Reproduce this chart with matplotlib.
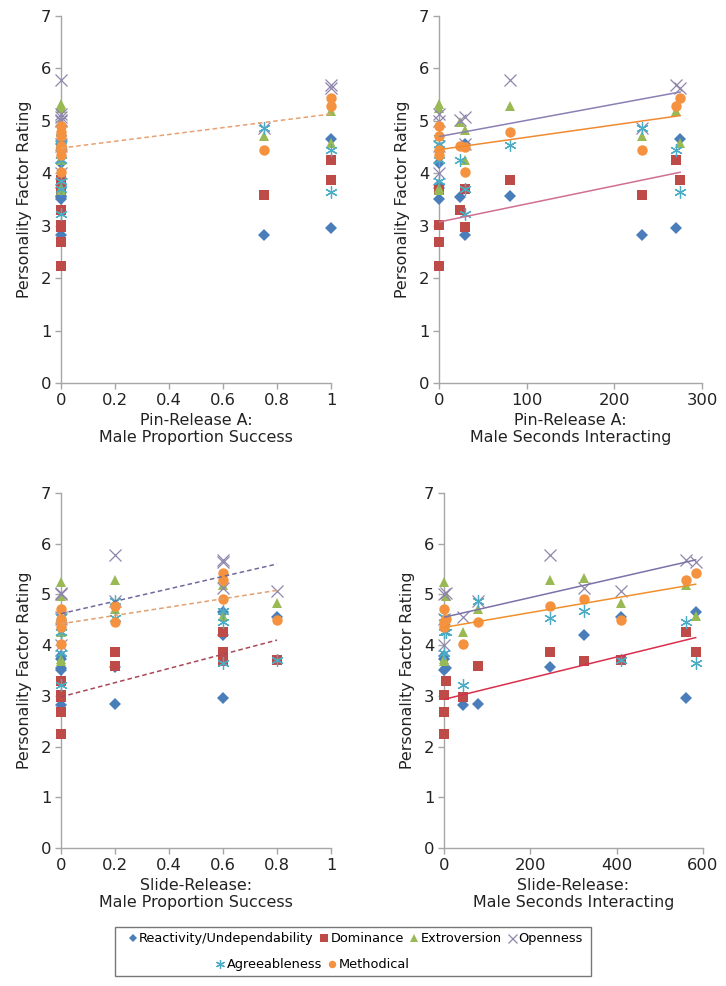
import numpy as np
import matplotlib
matplotlib.use("Agg")
import matplotlib.pyplot as plt
from matplotlib.lines import Line2D
from matplotlib.patches import Rectangle

plt.rcParams["font.family"] = ["DejaVu Sans"]

# one entry per individual
pin_prop = [0.75, 1, 1, 0, 0, 0, 0, 0, 0, 0, 0]
pin_sec = [232, 270, 275, 81, 0, 30, 30, 24, 0, 0, 0]
slide_prop = [0.2, 0.6, 0.6, 0.2, 0.6, 0.8, 0, 0, 0, 0, 0]
slide_sec = [78, 560, 583, 245, 325, 410, 45, 5, 0, 0, 0]

reactivity = [2.83, 2.95, 4.65, 3.57, 4.20, 4.55, 2.82, 3.55, 3.78, 3.50, 3.72]
dominance = [3.58, 4.25, 3.87, 3.87, 3.68, 3.70, 2.97, 3.30, 3.02, 2.68, 2.24]
extroversion = [4.72, 5.18, 4.57, 5.28, 5.33, 4.83, 4.25, 4.97, 5.25, 3.68, 3.72]
openness = [4.87, 5.68, 5.63, 5.78, 5.13, 5.07, 4.55, 5.02, 5.00, 4.00, 4.52]
agreeableness = [4.87, 4.45, 3.65, 4.53, 4.67, 3.70, 3.22, 4.25, 4.55, 3.85, 4.25]
methodical = [4.45, 5.28, 5.43, 4.78, 4.90, 4.50, 4.02, 4.52, 4.72, 4.35, 4.45]

factors = ["Reactivity/Undependability", "Dominance", "Extroversion",
           "Openness", "Agreeableness", "Methodical"]
scores = [reactivity, dominance, extroversion, openness, agreeableness, methodical]

# trendlines: (factor, intercept, slope)
trend_pin_prop = [("Methodical", 4.48, 0.65)]
trend_pin_sec = [("Openness", 4.70, 0.00309), ("Methodical", 4.45, 0.00236),
                 ("Dominance", 3.07, 0.00345)]
trend_slide_prop = [("Openness", 4.62, 1.225), ("Methodical", 4.42, 0.825),
                    ("Dominance", 2.98, 1.40)]
trend_slide_sec = [("Openness", 4.55, 0.00194), ("Methodical", 4.35, 0.00146),
                   ("Dominance", 2.93, 0.00209)]

styles = {
    "Reactivity/Undependability": dict(marker="D", color="#4a7ebb", ms=6.3),
    "Dominance": dict(marker="s", color="#be4b48", ms=7.3),
    "Extroversion": dict(marker="^", color="#98b954", ms=7.5),
    "Openness": dict(marker="x", color="#8f86ad", ms=9),
    "Agreeableness": dict(marker=(6, 2, 0), color="#4bacc6", ms=9),
    "Methodical": dict(marker="o", color="#f59240", ms=7.5),
}

panels = [
    (pin_prop, trend_pin_prop, "Pin-Release A:\nMale Proportion Success",
     [0, 0.2, 0.4, 0.6, 0.8, 1], ["0", "0.2", "0.4", "0.6", "0.8", "1"], (0, 1),
     [0.084, 0.6116, 0.372, 0.3722], "--",
     {"Methodical": "#e8a070"}),
    (pin_sec, trend_pin_sec, "Pin-Release A:\nMale Seconds Interacting",
     [0, 100, 200, 300], ["0", "100", "200", "300"], (0, 300),
     [0.6047, 0.6116, 0.3623, 0.3722], "-",
     {"Openness": "#8c7fb4", "Methodical": "#f08a30", "Dominance": "#d07090"}),
    (slide_prop, trend_slide_prop, "Slide-Release:\nMale Proportion Success",
     [0, 0.2, 0.4, 0.6, 0.8, 1], ["0", "0.2", "0.4", "0.6", "0.8", "1"], (0, 1),
     [0.084, 0.14, 0.372, 0.36], "--",
     {"Openness": "#6e6a9c", "Methodical": "#e0a070", "Dominance": "#a84858"}),
    (slide_sec, trend_slide_sec, "Slide-Release:\nMale Seconds Interacting",
     [0, 200, 400, 600], ["0", "200", "400", "600"], (0, 600),
     [0.6116, 0.14, 0.3567, 0.36], "-",
     {"Openness": "#7a72a8", "Methodical": "#f0902c", "Dominance": "#d8304c"}),
]

fig = plt.figure(figsize=(7.26, 9.86), dpi=100)

for xs, trends, xlabel, xticks, xticklabels, xlim, rect, ls, tcolors in panels:
    ax = fig.add_axes(rect)
    for name, vals in zip(factors, scores):
        st = styles[name]
        mew = 0.9 if name in ("Openness", "Agreeableness") else 0
        ax.plot(xs, vals, linestyle="none", marker=st["marker"], ms=st["ms"],
                color=st["color"], mec=st["color"], mew=mew, clip_on=False, zorder=3)
    xmax = max(xs)
    for name, b, m in trends:
        xx = np.array([0, xmax])
        ax.plot(xx, b + m * xx, linestyle=ls, color=tcolors[name], lw=1.1,
                dashes=(3, 2) if ls == "--" else (None, None), zorder=4)
    ax.set_xlim(*xlim)
    ax.set_ylim(0, 7)
    ax.set_yticks(range(8))
    ax.set_xticks(xticks)
    ax.set_xticklabels(xticklabels)
    for s in ("top", "right"):
        ax.spines[s].set_visible(False)
    for s in ("left", "bottom"):
        ax.spines[s].set_color("#a6a6a6")
        ax.spines[s].set_linewidth(1)
    ax.tick_params(direction="out", length=4, width=1, color="#a6a6a6",
                   labelsize=11.8, labelcolor="#222222", pad=3)
    ax.set_ylabel("Personality Factor Rating", fontsize=11.4, color="#222222", labelpad=6)
    ax.set_xlabel(xlabel, fontsize=11.4, color="#222222", labelpad=4, linespacing=1.15)

# legend in two rows, framed like the reference
def handle(name):
    st = styles[name]
    mew = 0.9 if name in ("Openness", "Agreeableness") else 0
    return Line2D([], [], linestyle="none", marker=st["marker"], ms=st["ms"] * 0.72,
                  color=st["color"], mec=st["color"], mew=mew)

row1 = factors[:4]
row2 = factors[4:]
kw = dict(frameon=False, fontsize=9.3, handlelength=0.6, handletextpad=0.2,
          columnspacing=0.5, borderpad=0, borderaxespad=0)
fig.legend([handle(n) for n in row1], row1, ncol=4, loc="center",
           bbox_to_anchor=(0.49, 0.0477), **kw)
fig.legend([handle(n) for n in row2], row2, ncol=2, loc="center",
           bbox_to_anchor=(0.431, 0.0213), **kw)
fig.patches.append(Rectangle((0.1584, 0.0101), 0.6556, 0.0497, transform=fig.transFigure,
                             fill=False, edgecolor="#777777", lw=1))

fig.savefig("out.png", dpi=100)
